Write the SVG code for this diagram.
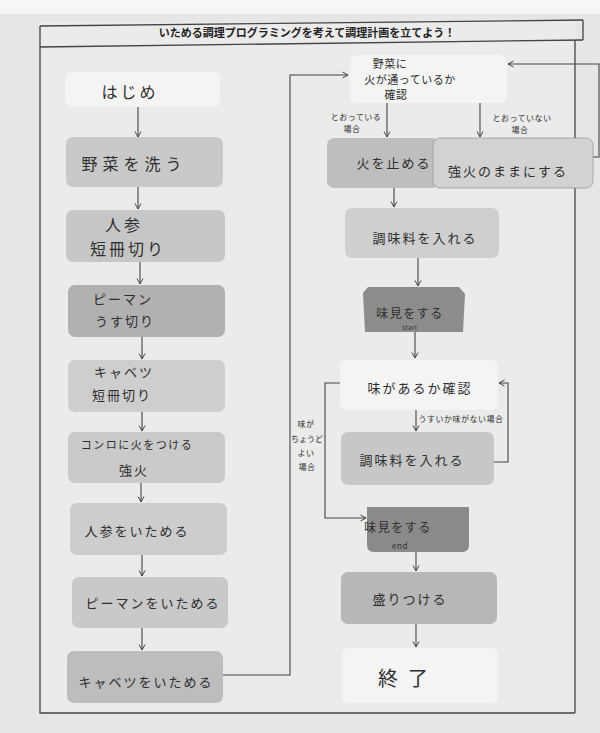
<svg xmlns="http://www.w3.org/2000/svg" width="600" height="733" viewBox="0 0 600 733">
<defs>
<marker id="ah" viewBox="0 0 8 8" refX="6.5" refY="4" markerWidth="8" markerHeight="8" markerUnits="userSpaceOnUse" orient="auto">
<path d="M1,1 L6.5,4 L1,7" fill="none" stroke="#444" stroke-width="1"/>
</marker>
<style>
text{font-family:"Noto Sans CJK JP","Noto Sans CJK SC",sans-serif;fill:#2e2e2e;text-anchor:middle}
.t{font-size:16px;letter-spacing:3px}
.s{font-size:13px;letter-spacing:2px}
.xs{font-size:8px;letter-spacing:0.5px}
.title{font-size:11px;font-weight:bold;fill:#222;letter-spacing:0px}
.w{fill:#f4f4f4}
.c{fill:none;stroke:#444;stroke-width:1.1}
.f{fill:none;stroke:#444;stroke-width:1.3}
</style>
</defs>
<rect width="600" height="733" fill="#e6e6e6"/>
<rect x="0" y="0" width="600" height="14" fill="#f6f6f6"/>
<rect x="40" y="22" width="536" height="691" fill="#ebebeb"/>
<g id="frame">
<path class="f" d="M40,26 L583,20"/>
<path class="f" d="M40,47 L583,40"/>
<path class="f" d="M40,26 V713 H575"/>
<path class="f" d="M583,20 V40 M575,40 V713"/>
<text class="title" x="307" y="37">いためる調理プログラミングを考えて調理計画を立てよう！</text>
</g>
<g id="connectors">
<path class="c" marker-end="url(#ah)" d="M138,107 V137"/>
<path class="c" marker-end="url(#ah)" d="M138,187 V209"/>
<path class="c" marker-end="url(#ah)" d="M140,262 V284"/>
<path class="c" marker-end="url(#ah)" d="M142,337 V359"/>
<path class="c" marker-end="url(#ah)" d="M142,412 V431"/>
<path class="c" marker-end="url(#ah)" d="M141,483 V502"/>
<path class="c" marker-end="url(#ah)" d="M142,555 V576"/>
<path class="c" marker-end="url(#ah)" d="M142,628 V650"/>
<path class="c" marker-end="url(#ah)" d="M223,675 H290 V75 H348"/>
<path class="c" marker-end="url(#ah)" d="M593,157 H599 V64 H508"/>
<path class="c" marker-end="url(#ah)" d="M387,103 V137"/>
<path class="c" marker-end="url(#ah)" d="M480,103 V137"/>
<path class="c" marker-end="url(#ah)" d="M394,188 V207"/>
<path class="c" marker-end="url(#ah)" d="M418,258 V286"/>
<path class="c" marker-end="url(#ah)" d="M415,332 V358"/>
<path class="c" marker-end="url(#ah)" d="M416,410 V431"/>
<path class="c" marker-end="url(#ah)" d="M494,462 H508 V383 H499"/>
<path class="c" marker-end="url(#ah)" d="M340,383 H325 V518 H366"/>
<path class="c" marker-end="url(#ah)" d="M416,552 V571"/>
<path class="c" marker-end="url(#ah)" d="M416,624 V647"/>
<text class="xs" x="356" y="120">とおっている</text>
<text class="xs" x="352" y="132">場合</text>
<text class="xs" x="522" y="121">とおっていない</text>
<text class="xs" x="520" y="133">場合</text>
<text class="xs" x="461" y="422">うすいか味がない場合</text>
<text class="xs" x="306" y="427">味が</text>
<text class="xs" style="letter-spacing:0px" x="307" y="442">ちょうど</text>
<text class="xs" x="306" y="456">よい</text>
<text class="xs" x="307" y="470">場合</text>
</g>
<g id="n-start"><rect class="w" x="65" y="72" width="155" height="35" rx="7"/><text class="t" x="130" y="98">はじめ</text></g>
<g id="n-wash"><rect x="66" y="137" width="157" height="50" rx="7" fill="#c9c9c9"/><text class="t" style="letter-spacing:5px" x="134" y="170">野菜を洗う</text></g>
<g id="n-carrot-cut"><rect x="66" y="210" width="159" height="52" rx="7" fill="#c6c6c6"/><text class="t" x="124" y="231">人参</text><text class="t" x="128" y="255">短冊切り</text></g>
<g id="n-pepper-cut"><rect x="68" y="285" width="157" height="52" rx="7" fill="#b1b1b1"/><text class="s" x="123" y="304">ピーマン</text><text class="s" x="125" y="326">うす切り</text></g>
<g id="n-cabbage-cut"><rect x="68" y="360" width="157" height="52" rx="7" fill="#cecece"/><text class="s" x="124" y="377">キャベツ</text><text class="s" x="122" y="400">短冊切り</text></g>
<g id="n-stove"><rect x="68" y="432" width="157" height="51" rx="7" fill="#cacaca"/><text class="xs" style="font-size:11px;letter-spacing:1.5px" x="137" y="449">コンロに火をつける</text><text class="s" x="134" y="475">強火</text></g>
<g id="n-fry-carrot"><rect x="70" y="503" width="157" height="52" rx="7" fill="#cdcdcd"/><text class="s" x="137" y="536">人参をいためる</text></g>
<g id="n-fry-pepper"><rect x="72" y="577" width="156" height="51" rx="7" fill="#c9c9c9"/><text class="s" x="153" y="608">ピーマンをいためる</text></g>
<g id="n-fry-cabbage"><rect x="67" y="651" width="156" height="52" rx="7" fill="#bdbdbd"/><text class="s" x="146" y="687">キャベツをいためる</text></g>
<g id="n-check-cooked"><rect class="w" x="350" y="55" width="157" height="48" rx="7"/><text class="xs" style="font-size:11px" x="390" y="68">野菜に</text><text class="xs" style="font-size:11px" x="410" y="84">火が通っているか</text><text class="xs" style="font-size:11px" x="396" y="99">確認</text></g>
<g id="n-stop-fire"><rect x="327" y="138" width="112" height="50" rx="7" fill="#bebebe"/><text class="s" x="394" y="168">火を止める</text></g>
<g id="n-keep-fire"><rect x="433" y="138" width="160" height="50" rx="7" fill="#d2d2d2" stroke="#9a9a9a" stroke-width="0.8"/><text class="s" x="508" y="176">強火のままにする</text></g>
<g id="n-season1"><rect x="345" y="208" width="154" height="50" rx="7" fill="#cfcfcf"/><text class="s" x="425" y="243">調味料を入れる</text></g>
<g id="n-taste-start"><path d="M363,293 L368,287 H459 L465,294 L463,332 H365 Z" fill="#8c8c8c"/><text class="xs" style="font-size:12px;letter-spacing:1.5px" x="410" y="318">味見をする</text><text class="xs" style="font-size:6px" x="410" y="330">start</text></g>
<g id="n-check-taste"><rect class="w" x="340" y="360" width="158" height="50" rx="7"/><text class="s" x="420" y="393">味があるか確認</text></g>
<g id="n-season2"><rect x="341" y="432" width="153" height="53" rx="7" fill="#c7c7c7"/><text class="s" x="412" y="465">調味料を入れる</text></g>
<g id="n-taste-end"><path d="M367,507 H469 V545 Q469,552 462,552 H374 Q367,552 367,545 Z" fill="#8a8a8a"/><text class="xs" style="font-size:12px;letter-spacing:1.5px" x="398" y="532">味見をする</text><text class="xs" style="font-size:8px" x="400" y="549">end</text></g>
<g id="n-serve"><rect x="341" y="572" width="156" height="52" rx="7" fill="#b7b7b7"/><text class="s" x="410" y="604">盛りつける</text></g>
<g id="n-end"><rect class="w" x="342" y="648" width="156" height="55" rx="7" fill="#efefef"/><text class="t" style="font-size:20px;letter-spacing:10px" x="408" y="686">終了</text></g>
</svg>
